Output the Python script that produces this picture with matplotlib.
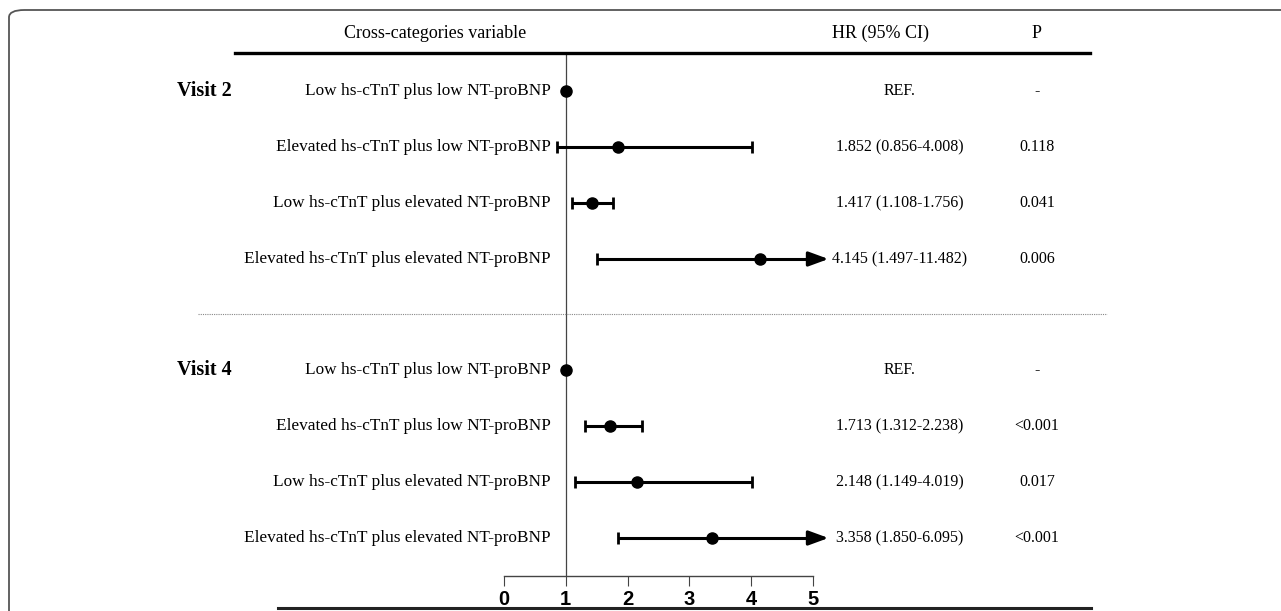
import matplotlib.pyplot as plt
import numpy as np
from matplotlib.patches import FancyBboxPatch

# data
visits = ["Visit 2", "Visit 4"]
groups = ["Low hs-cTnT plus low NT-proBNP",
          "Elevated hs-cTnT plus low NT-proBNP",
          "Low hs-cTnT plus elevated NT-proBNP",
          "Elevated hs-cTnT plus elevated NT-proBNP"]
hr_v2 = [1.0, 1.852, 1.417, 4.145]
lo_v2 = [np.nan, 0.856, 1.108, 1.497]
hi_v2 = [np.nan, 4.008, 1.756, 11.482]
p_v2 = ["-", "0.118", "0.041", "0.006"]
hr_v4 = [1.0, 1.713, 2.148, 3.358]
lo_v4 = [np.nan, 1.312, 1.149, 1.850]
hi_v4 = [np.nan, 2.238, 4.019, 6.095]
p_v4 = ["-", "<0.001", "0.017", "<0.001"]
xticks = [0, 1, 2, 3, 4, 5]

W, H = 1281, 611
fig = plt.figure(figsize=(W / 100, H / 100), dpi=100)

# axes placed in pixel terms: x 0..5 -> px 504..813, y data = pixel row
ax_l, ax_r, ax_t, ax_b = 504, 813, 53, 576
ax = fig.add_axes([ax_l / W, 1 - ax_b / H, (ax_r - ax_l) / W, (ax_b - ax_t) / H])
ax.set_xlim(0, 5)
ax.set_ylim(ax_b, ax_t)
for s in ["top", "right", "left"]:
    ax.spines[s].set_visible(False)
ax.spines["bottom"].set_color("#444444")
ax.spines["bottom"].set_linewidth(1.0)
ax.set_yticks([])
ax.set_xticks(xticks)
ax.set_xticklabels([str(t) for t in xticks], family=["Liberation Sans Narrow", "Liberation Sans"],
                   fontweight="bold", fontsize=14.5)
ax.tick_params(axis="x", direction="out", length=7, width=0.8, color="#444444", pad=3)
ax.axvline(1, color="#444444", lw=0.9, zorder=1)

serif = "Liberation Serif"
ftrans = fig.transFigure
xt = lambda px: px / W
yt = lambda py: 1 - py / H

row_gap = 56
starts = [91, 370]
datasets = [(hr_v2, lo_v2, hi_v2, p_v2), (hr_v4, lo_v4, hi_v4, p_v4)]

for v, (start, (hr, lo, hi, pv)) in enumerate(zip(starts, datasets)):
    fig.text(xt(204), yt(start), visits[v], family=serif, fontweight="bold",
             fontsize=14.5, ha="center", va="center")
    for i in range(len(groups)):
        y = start + i * row_gap
        fig.text(xt(551), yt(y), groups[i], family=serif, fontsize=12.4,
                 ha="right", va="center")
        if np.isnan(lo[i]):
            hr_txt = "REF."
        else:
            hr_txt = f"{hr[i]:.3f} ({lo[i]:.3f}-{hi[i]:.3f})"
            right = min(hi[i], 5)
            ax.plot([lo[i], right], [y, y], color="black", lw=2.2, clip_on=False,
                    solid_capstyle="butt")
            ax.plot([lo[i]], [y], marker="|", ms=9, mew=2, color="black", clip_on=False)
            if hi[i] > 5:
                ax.annotate("", xy=(5.25, y), xytext=(4.95, y),
                            arrowprops=dict(arrowstyle="-|>,head_length=0.6,head_width=0.22",
                                            mutation_scale=20, color="black", lw=2.2,
                                            shrinkA=0, shrinkB=0),
                            annotation_clip=False)
            else:
                ax.plot([hi[i]], [y], marker="|", ms=9, mew=2, color="black", clip_on=False)
        ax.plot([hr[i]], [y], "o", ms=8, color="black", clip_on=False, zorder=5)
        fig.text(xt(900), yt(y), hr_txt, family=serif, fontsize=11.5,
                 ha="center", va="center")
        fig.text(xt(1037), yt(y), pv[i], family=serif, fontsize=11.5,
                 ha="center", va="center")

# header
fig.text(xt(435), yt(33), "Cross-categories variable", family=serif, fontsize=13,
         ha="center", va="center")
fig.text(xt(880), yt(33), "HR (95% CI)", family=serif, fontsize=13, ha="center", va="center")
fig.text(xt(1037), yt(33), "P", family=serif, fontsize=13, ha="center", va="center")
fig.lines.append(plt.Line2D([xt(235), xt(1090)], [yt(53), yt(53)], transform=ftrans,
                            color="black", lw=2.4))

# separator between visits
fig.lines.append(plt.Line2D([xt(198), xt(1107)], [yt(314), yt(314)], transform=ftrans,
                            color="#888888", lw=0.8, ls=(0, (1, 1))))

# bottom rule
fig.lines.append(plt.Line2D([xt(278), xt(1091)], [yt(608), yt(608)], transform=ftrans,
                            color="#222222", lw=2.2))

# page frame
frame = FancyBboxPatch((xt(9), yt(700)), xt(1400), yt(10) - yt(700),
                       boxstyle="round,pad=0,rounding_size=0.012", transform=ftrans,
                       fill=False, ec="#555555", lw=1.3)
fig.patches.append(frame)

fig.savefig("out.png", dpi=100)
